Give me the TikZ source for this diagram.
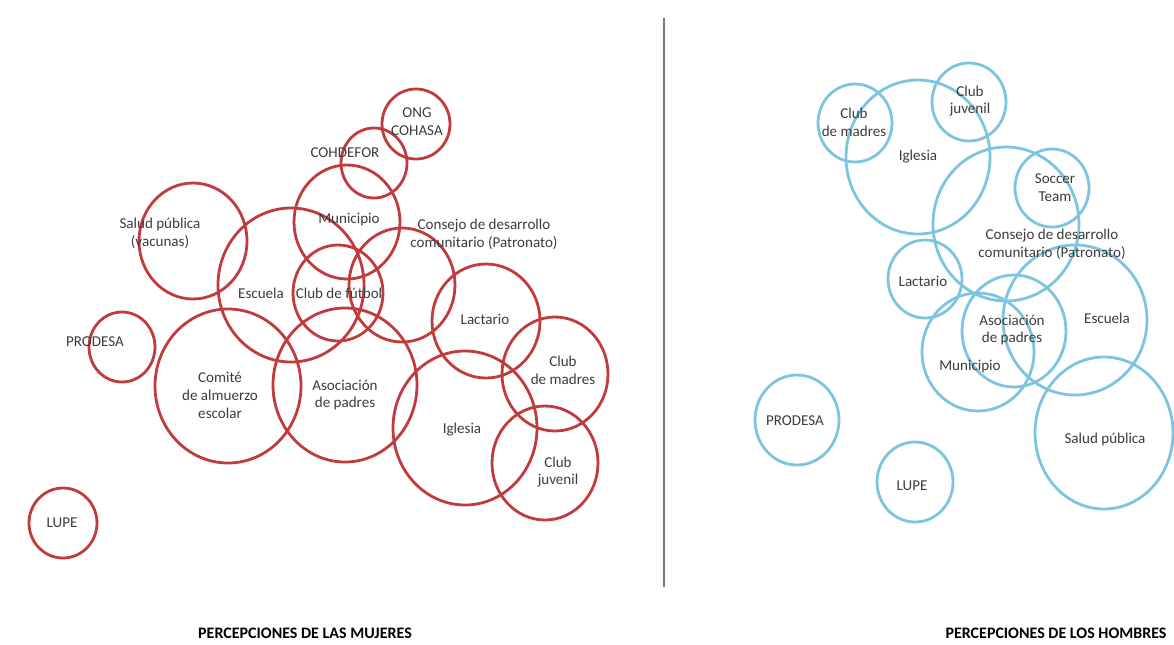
\documentclass[tikz,border=0pt]{standalone}
\usepackage{fontspec}
\setmainfont{Carlito}
\usetikzlibrary{shapes.geometric}
\definecolor{rc}{RGB}{192,58,62}
\definecolor{bc}{RGB}{124,196,224}
\definecolor{tc}{RGB}{60,60,60}
\definecolor{dv}{RGB}{120,120,120}
\tikzset{
  bub/.style 2 args={ellipse, inner sep=0pt, minimum width={#1*1.5pt}, minimum height={#2*1.5pt}, line width=2.1pt},
  redb/.style={draw=rc},
  blueb/.style={draw=bc},
  lbl/.style={text=tc, font=\fontsize{11.3}{13.4}\selectfont, align=center, inner sep=0pt},
  ttl/.style={text=black, font=\fontsize{12}{14}\selectfont\bfseries, inner sep=0pt},
}
\begin{document}
\begin{tikzpicture}[x=0.75pt, y=-0.75pt]
\useasboundingbox (0,0) rectangle (1174,644);
% ---- left (women) ----
\node[bub={34}{35}, redb] (ongc) at (416,124) {};
\node[bub={33}{35}, redb] (cohd) at (374,163) {};
\node[bub={53}{57}, redb] (muni) at (347,222) {};
\node[bub={73}{77}, redb] (escu) at (291,285) {};
\node[bub={54}{58}, redb] (salu) at (193,241) {};
\node[bub={45}{48}, redb] (futb) at (338,293) {};
\node[bub={53}{57}, redb] (cons) at (402,285) {};
\node[bub={54}{57}, redb] (lact) at (486,321) {};
\node[bub={53}{57}, redb] (madr) at (555,374) {};
\node[bub={53}{57}, redb] (juve) at (545,463) {};
\node[bub={72}{77}, redb] (igle) at (465,428) {};
\node[bub={72}{77}, redb] (asoc) at (345,385) {};
\node[bub={73}{77}, redb] (comi) at (228,386) {};
\node[bub={33}{35}, redb] (prod) at (122,347) {};
\node[bub={34}{35}, redb] (lupe) at (63,523) {};
\node[lbl] (t-ongc) at (417,122) {ONG\\COHASA};
\node[lbl] (t-cohd) at (345,153) {COHDEFOR};
\node[lbl] (t-muni) at (349,220) {Municipio};
\node[lbl] (t-cons) at (484,234) {Consejo de desarrollo\\comunitario (Patronato)};
\node[lbl] (t-salu) at (160,233) {Salud pública\\(vacunas)};
\node[lbl] (t-escu) at (261,293) {Escuela};
\node[lbl] (t-futb) at (339,293) {Club de fútbol};
\node[lbl] (t-lact) at (485,319) {Lactario};
\node[lbl] (t-comi) at (220,395) {Comité\\de almuerzo\\escolar};
\node[lbl] (t-asoc) at (345,395) {Asociación\\de padres};
\node[lbl] (t-igle) at (462,430) {Iglesia};
\node[lbl] (t-madr) at (563,370) {Club\\de madres};
\node[lbl] (t-juve) at (558,472) {Club\\juvenil};
\node[lbl] (t-prod) at (95,342) {PRODESA};
\node[lbl] (t-lupe) at (62,523) {LUPE};
% ---- divider ----
\coordinate (d1) at (664,18);
\coordinate (d2) at (664,587);
\draw[dv, line width=1.5pt] (d1) -- (d2);
% ---- right (men) ----
\node[bub={37}{39}, blueb] (rmadr) at (855,123) {};
\node[bub={37}{39}, blueb] (rjuve) at (969,102) {};
\node[bub={72}{77}, blueb] (rigle) at (918,157) {};
\node[bub={37}{39}, blueb] (rsocc) at (1052,188) {};
\node[bub={73}{77}, blueb] (rcons) at (1006,224) {};
\node[bub={37}{39}, blueb] (rlact) at (925,279) {};
\node[bub={72}{75}, blueb] (rescu) at (1075,320) {};
\node[bub={52}{56}, blueb] (rasoc) at (1014,331) {};
\node[bub={56}{59}, blueb] (rmuni) at (978,352) {};
\node[bub={69}{76}, blueb] (rsalu) at (1104,433) {};
\node[bub={42}{45}, blueb] (rprod) at (797,420) {};
\node[bub={38}{40}, blueb] (rlupe) at (915,482) {};
\node[lbl] (t-rmadr) at (854,122) {Club\\de madres};
\node[lbl] (t-rjuve) at (970,101) {Club\\juvenil};
\node[lbl] (t-rigle) at (918,157) {Iglesia};
\node[lbl] (t-rsocc) at (1055,188) {Soccer\\Team};
\node[lbl] (t-rcons) at (1052,244) {Consejo de desarrollo\\comunitario (Patronato)};
\node[lbl] (t-rlact) at (923,281) {Lactario};
\node[lbl] (t-rasoc) at (1012,330) {Asociación\\de padres};
\node[lbl] (t-rescu) at (1107,318) {Escuela};
\node[lbl] (t-rmuni) at (970,367) {Municipio};
\node[lbl] (t-rsalu) at (1105,439) {Salud pública};
\node[lbl] (t-rprod) at (795,421) {PRODESA};
\node[lbl] (t-rlupe) at (912,486) {LUPE};
% ---- titles ----
\node[ttl] (tt-l) at (305,633) {PERCEPCIONES DE LAS MUJERES};
\node[ttl] (tt-r) at (1056,633) {PERCEPCIONES DE LOS HOMBRES};
\end{tikzpicture}
\end{document}
